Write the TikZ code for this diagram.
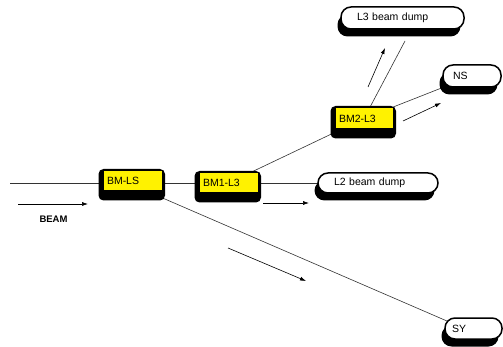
\documentclass[tikz,border=0pt]{standalone}
\usepackage{fontspec}
\setmainfont{Liberation Sans}
\usetikzlibrary{arrows.meta,backgrounds,shadows}
\begin{document}
\begin{tikzpicture}[x=1pt,y=-1pt,
  txt/.style={font=\fontsize{10.5}{12}\selectfont},
  magnet/.style={txt, rectangle, draw=black, line width=1pt, fill=yellow,
    inner xsep=4pt, inner ysep=0pt, align=left},
  dump/.style={txt, rectangle, rounded corners=10pt, draw=black, line width=1.5pt, fill=white,
    inner ysep=0pt, align=left,
    general shadow={fill=black, shadow xshift=-3.5pt, shadow yshift=-7.5pt}},
  conn/.style={draw=black!80, line width=0.6pt},
  dir/.style={draw=black, line width=0.6pt, -{Latex[length=6pt,width=4pt]}},
  backdrop/.style={fill=black, rounded corners=5pt}
]
\useasboundingbox (0,0) rectangle (503,347);

% magnets
\node[magnet, text width=51pt, minimum height=20pt] (bmls) at (132.5,181) {BM-LS};
\node[magnet, text width=51pt, minimum height=20pt] (bm1) at (228.5,183) {BM1-L3};
\node[magnet, text width=50pt, minimum height=21pt] (bm2) at (364,118.5) {BM2-L3};

% dumps / destinations
\node[dump, text width=91pt, inner xsep=16pt, minimum height=22pt] (l3) at (402.5,18) {L3 beam dump};
\node[dump, text width=38pt, inner xsep=10pt, minimum height=22pt] (ns) at (472,76) {NS};
\node[dump, text width=88pt, inner xsep=16pt, minimum height=20pt] (l2) at (378,183) {L2 beam dump};
\node[dump, text width=43pt, inner xsep=7pt, minimum height=21pt] (sy) at (473.5,328.5) {SY};

\node[font=\fontsize{9.5}{11}\selectfont\bfseries] (beam) at (53.5,219.5) {BEAM};

% free ends
\coordinate (in) at (10,183);
\coordinate (l3e) at (405,41);

\begin{scope}[on background layer]
  \fill[white] (0,0) rectangle (503,347);
  \draw[conn] (in) -- (bm1.center);
  \draw[conn] (bm1.center) -- (l2.center);
  \draw[conn] (bm1.center) -- (bm2.center);
  \draw[conn] (bm2.center) -- (ns.center);
  \draw[conn] (bm2.center) -- (l3e);
  \draw[conn] ([yshift=-4pt]bmls.center) -- ([yshift=-4pt]sy.center);
  \foreach \n in {bmls,bm1,bm2}{
    \fill[backdrop] ([shift={(-4pt,1.5pt)}]\n.north west) rectangle ([shift={(2.5pt,-9pt)}]\n.south east);
  }
\end{scope}

% direction arrows
\coordinate (a1s) at (18,204);   \coordinate (a1e) at (88,204);
\coordinate (a2s) at (263,203);  \coordinate (a2e) at (309,203);
\coordinate (a3s) at (228,248);  \coordinate (a3e) at (306,281);
\coordinate (a4s) at (368,87);   \coordinate (a4e) at (385,48);
\coordinate (a5s) at (403,121);  \coordinate (a5e) at (441,103);
\draw[dir] (a1s) -- (a1e);
\draw[dir] (a2s) -- (a2e);
\draw[dir] (a3s) -- (a3e);
\draw[dir] (a4s) -- (a4e);
\draw[dir] (a5s) -- (a5e);
\end{tikzpicture}
\end{document}
